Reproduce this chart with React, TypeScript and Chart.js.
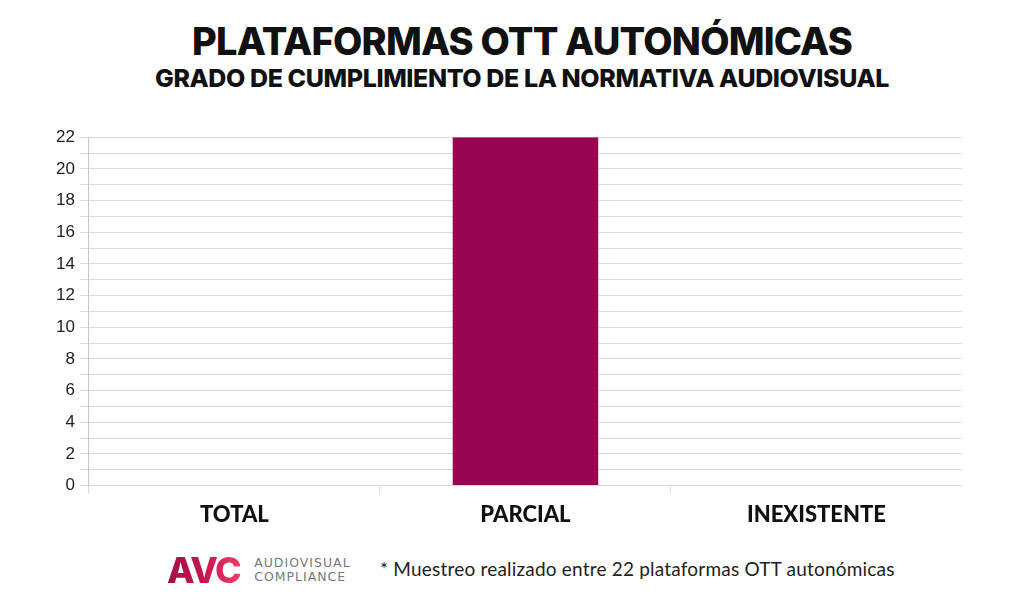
import React, { useEffect, useRef } from "react";
import { Chart, registerables } from "chart.js";

Chart.register(...registerables);

const TITLE = "PLATAFORMAS OTT AUTONÓMICAS";
const SUBTITLE = "GRADO DE CUMPLIMIENTO DE LA NORMATIVA AUDIOVISUAL";
const FOOTNOTE = "* Muestreo realizado entre 22 plataformas OTT autonómicas";
const categories = ["TOTAL", "PARCIAL", "INEXISTENTE"];
const values = [0, 22, 0];
const yMax = 22;
const yStep = 1;
const labelEvery = 2;

const BAR_COLOR = "#960551";
const GRID_COLOR = "#d9d9d9";

export default function App() {
  const canvasRef = useRef<HTMLCanvasElement | null>(null);

  useEffect(() => {
    if (!canvasRef.current) return;
    const chart = new Chart(canvasRef.current, {
      type: "bar",
      data: {
        labels: categories,
        datasets: [
          {
            data: values,
            backgroundColor: BAR_COLOR,
            borderWidth: 0,
            barPercentage: 0.5,
            categoryPercentage: 1,
          },
        ],
      },
      options: {
        animation: false,
        responsive: true,
        maintainAspectRatio: false,
        layout: { padding: { left: 0, right: 0, top: 0, bottom: 0 } },
        plugins: {
          legend: { display: false },
          tooltip: { enabled: false },
        },
        scales: {
          x: {
            offset: true,
            grid: {
              offset: true,
              drawOnChartArea: true,
              drawTicks: true,
              tickLength: 8,
              color: (ctx: any) =>
                ctx.index === categories.length ? GRID_COLOR : "rgba(0,0,0,0)",
              tickColor: GRID_COLOR,
              lineWidth: 1,
            },
            border: { display: true, color: GRID_COLOR },
            ticks: {
              color: "#111",
              padding: 8,
              font: { family: "Lato, 'DejaVu Sans', sans-serif", size: 22, weight: 900 },
            },
          },
          y: {
            min: 0,
            max: yMax,
            grid: {
              color: GRID_COLOR,
              tickColor: GRID_COLOR,
              tickLength: 9,
              drawTicks: true,
              lineWidth: 1,
            },
            border: { display: true, color: "#c8c8c8" },
            ticks: {
              stepSize: yStep,
              autoSkip: false,
              padding: 5,
              color: "#222",
              font: { family: "'Liberation Sans', Arial, sans-serif", size: 17 },
              callback: (v: any) => (Number(v) % labelEvery === 0 ? String(v) : ""),
            },
          },
        },
      },
    });
    return () => chart.destroy();
  }, []);

  return (
    <div
      style={{
        position: "fixed",
        left: 0,
        top: 0,
        width: 1024,
        height: 600,
        background: "#fff",
        overflow: "hidden",
      }}
    >
      <div
        style={{
          position: "absolute",
          left: 10,
          top: 17,
          width: 1024,
          textAlign: "center",
          fontFamily: "Inter, 'DejaVu Sans', sans-serif",
          fontWeight: 800,
          fontSize: 38,
          letterSpacing: -0.8,
          color: "#111",
          lineHeight: "48px",
        }}
      >
        {TITLE}
      </div>
      <div
        style={{
          position: "absolute",
          left: 10,
          top: 63,
          width: 1024,
          textAlign: "center",
          fontFamily: "Inter, 'DejaVu Sans', sans-serif",
          fontWeight: 800,
          fontSize: 25,
          letterSpacing: -0.4,
          color: "#111",
          lineHeight: "30px",
        }}
      >
        {SUBTITLE}
      </div>
      <div
        style={{
          position: "absolute",
          left: 51,
          top: 122,
          width: 911,
          height: 414,
        }}
      >
        <canvas ref={canvasRef} />
      </div>
      <div
        style={{
          position: "absolute",
          left: 167,
          top: 552,
          height: 36,
          display: "flex",
          alignItems: "center",
        }}
      >
        <span
          style={{
            fontFamily: "Inter, 'DejaVu Sans', sans-serif",
            fontWeight: 800,
            fontSize: 36,
            letterSpacing: -1.5,
            lineHeight: "36px",
            background: "linear-gradient(90deg, #a01048 0%, #c8154f 50%, #ef3b6a 100%)",
            WebkitBackgroundClip: "text",
            backgroundClip: "text",
            color: "transparent",
          }}
        >
          AVC
        </span>
        <span
          style={{
            marginLeft: 14,
            display: "flex",
            flexDirection: "column",
            fontFamily: "'DejaVu Sans', sans-serif",
            fontSize: 12.5,
            letterSpacing: 1,
            color: "#777",
            lineHeight: "14px",
          }}
        >
          <span>AUDIOVISUAL</span>
          <span>COMPLIANCE</span>
        </span>
      </div>
      <div
        style={{
          position: "absolute",
          left: 380,
          top: 557,
          fontFamily: "Lato, 'DejaVu Sans', sans-serif",
          fontSize: 19,
          letterSpacing: 0.2,
          color: "#222",
          lineHeight: "24px",
          whiteSpace: "nowrap",
        }}
      >
        {FOOTNOTE}
      </div>
    </div>
  );
}
